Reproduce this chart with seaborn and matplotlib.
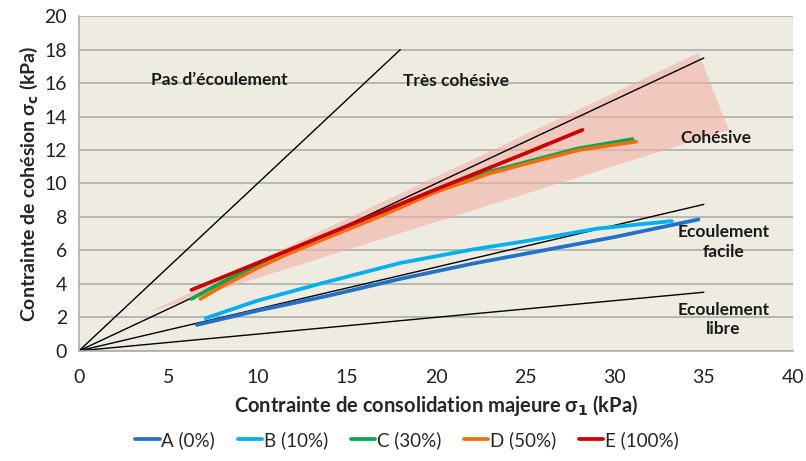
import numpy as np
import pandas as pd
import matplotlib
matplotlib.use("Agg")
import matplotlib.pyplot as plt
import seaborn as sns

# --- data ---
a_x = [6.6, 10, 14, 18, 22, 26, 30, 34.7]
a_y = [1.55, 2.4, 3.3, 4.3, 5.2, 6.0, 6.8, 7.85]

b_x = [7.1, 10, 14, 18, 22, 25, 29, 33.2]
b_y = [1.95, 3.0, 4.15, 5.25, 6.05, 6.55, 7.3, 7.75]

c_x = [6.3, 8, 10, 11.5, 14, 17, 20, 23, 26, 28, 31.0]
c_y = [3.1, 4.1, 5.1, 5.8, 6.85, 8.15, 9.55, 10.7, 11.55, 12.1, 12.65]

d_x = [6.8, 8, 10, 11.5, 14, 17, 20, 23, 26, 28, 31.2]
d_y = [3.1, 3.85, 4.95, 5.7, 6.8, 8.1, 9.5, 10.6, 11.45, 12.0, 12.5]

e_x = [6.3, 10, 15, 20, 25, 28.2]
e_y = [3.64, 5.25, 7.45, 9.65, 11.8, 13.2]

series_names = ["A (0%)", "B (10%)", "C (30%)", "D (50%)", "E (100%)"]
series_colors = ["#1F72C8", "#00B0F0", "#00A84F", "#EE6E10", "#CC0000"]

# flowability boundaries (lines from origin)
limit_x_end = [18, 35, 35, 35]
limit_y_end = [18, 17.5, 8.75, 3.5]

# shaded "cohesive" band
band_x = [3.9, 34.7, 36.4]
band_y = [2.3, 17.8, 13.2]

x_ticks = [0, 5, 10, 15, 20, 25, 30, 35, 40]
y_ticks = [0, 2, 4, 6, 8, 10, 12, 14, 16, 18, 20]

# --- build long dataframe ---
frames = []
for name, xs, ys in zip(series_names, [a_x, b_x, c_x, d_x, e_x], [a_y, b_y, c_y, d_y, e_y]):
    frames.append(pd.DataFrame({"x": xs, "y": ys, "serie": name}))
data = pd.concat(frames, ignore_index=True)

sns.set_style("white")
plt.rcParams["font.family"] = ["Lato", "DejaVu Sans"]

fig = plt.figure(figsize=(8.06, 4.61), dpi=100)
ax = fig.add_axes([0.098, 0.239, 0.886, 0.726])
ax.set_facecolor("#EEECE1")

ax.fill(band_x, band_y, color="#F4B0A6", alpha=0.6, lw=0, zorder=1)

for xe, ye in zip(limit_x_end, limit_y_end):
    ax.plot([0, xe], [0, ye], color="black", lw=1.0, zorder=2)

sns.lineplot(data=data, x="x", y="y", hue="serie", palette=series_colors,
             sort=False, estimator=None, lw=2.7, ax=ax, zorder=3)

ax.set_xlim(0, 40)
ax.set_ylim(0, 20)
ax.set_xticks(x_ticks)
ax.set_yticks(y_ticks)
ax.yaxis.grid(True, color="#ADADAD", lw=1.2, zorder=0)
ax.set_axisbelow(True)
for s in ["top", "right"]:
    ax.spines[s].set_visible(False)
for s in ["left", "bottom"]:
    ax.spines[s].set_color("#ADADAD")
    ax.spines[s].set_linewidth(1.2)
ax.tick_params(axis="both", direction="out", length=5, color="#ADADAD",
               labelsize=14, labelcolor="#222222")
ax.tick_params(axis="x", pad=8)

ax.set_xlabel("Contrainte de consolidation majeure σ$_\\mathbf{1}$ (kPa)",
              fontsize=14.5, fontweight="bold", labelpad=5)
ax.set_ylabel("Contrainte de cohésion σ$_\\mathbf{c}$ (kPa)",
              fontsize=14, fontweight="bold", labelpad=3)

txt = dict(fontsize=12.5, fontweight="bold", ha="center", va="center", color="#1a1a1a")
ax.text(7.85, 16.2, "Pas d’écoulement", **txt)
ax.text(21.1, 16.1, "Très cohésive", **txt)
ax.text(35.7, 12.7, "Cohésive", **txt)
ax.text(36.1, 6.5, "Ecoulement\nfacile", linespacing=1.25, **txt)
ax.text(36.1, 1.85, "Ecoulement\nlibre", linespacing=1.25, **txt)

handles, labels = ax.get_legend_handles_labels()
ax.get_legend().remove()
fig.legend(handles, labels, loc="center", bbox_to_anchor=(0.505, 0.046), ncol=5,
           frameon=False, fontsize=13.5, handlelength=1.3, handletextpad=0.1,
           columnspacing=1.2, borderaxespad=0)

fig.savefig("out.png", dpi=100)
